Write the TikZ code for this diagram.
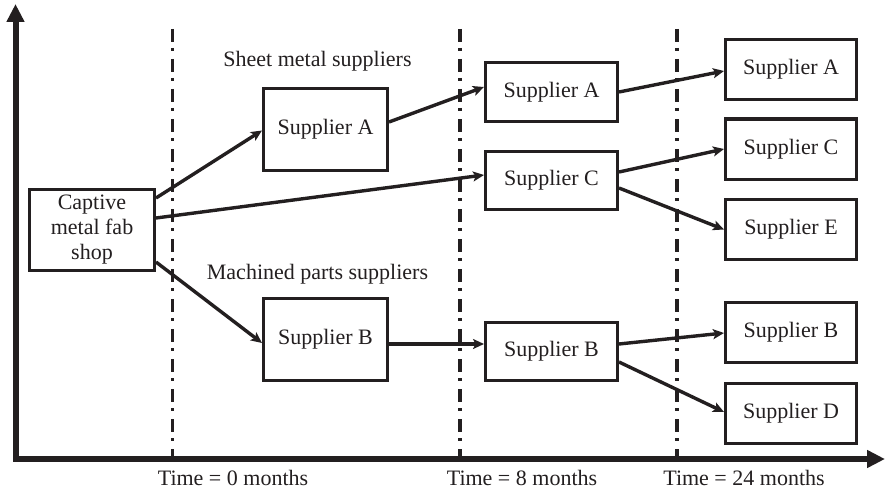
\documentclass[tikz,border=0pt]{standalone}
\usepackage{fontspec}
\setmainfont{Liberation Serif}
\usetikzlibrary{arrows.meta}
\definecolor{ink}{HTML}{231F20}
\begin{document}
\begin{tikzpicture}[x=1pt,y=-1pt,
  font=\fontsize{22}{25}\selectfont, text=ink,
  box/.style={draw=ink, line width=3pt, fill=white, inner sep=0pt, align=center},
  firstbox/.style={box, minimum width=124pt, minimum height=82pt},
  midbox/.style={box, minimum width=132pt, minimum height=58pt},
  lastbox/.style={box, minimum width=131pt, minimum height=60pt},
  link/.style={draw=ink, line width=3.4pt, -{Stealth[length=11pt,width=10pt,inset=2.5pt]}},
  axis/.style={draw=ink, line width=6pt, line join=miter},
  axistip/.tip={Triangle[length=18pt,width=17pt]},
  epoch/.style={draw=ink, line width=3.8pt, dash pattern=on 13pt off 6pt on 3pt off 8pt},
  lbl/.style={anchor=base, inner sep=0pt}]

% canvas
\path[fill=white, use as bounding box] (0,0) rectangle (885,492);

% time axes
\coordinate (ytop) at (15.5,4);
\coordinate (xend) at (885,459);
\coordinate (origin) at (15.5,459);
\draw[axis, axistip-axistip] (ytop) |- (xend);

% epoch lines
\coordinate (e0) at (172.5,29);
\coordinate (e8) at (460,29);
\coordinate (e24) at (677,29);
\foreach \e in {e0,e8,e24}
  \draw[epoch] (\e) -- (\e |- origin);

\node[lbl] (t0)  at (233,485) {Time = 0 months};
\node[lbl] (t8)  at (522,485) {Time = 8 months};
\node[lbl] (t24) at (744,485) {Time = 24 months};

% group captions
\node[lbl] (sheet) at (317.5,67) {Sheet metal suppliers};
\node[lbl] (mach)  at (317.5,279) {Machined parts suppliers};

% suppliers
\node[box, minimum width=125pt, minimum height=81pt] (cap) at (92,230)
  {Captive\\metal fab\\shop};

\node[firstbox] (a1) at (325.5,129.5) {Supplier A};
\node[firstbox] (b1) at (325.5,339.5) {Supplier B};

\node[midbox] (a2) at (551.5,92)    {Supplier A};
\node[midbox] (c2) at (551.5,180)   {Supplier C};
\node[midbox] (b2) at (551.5,351.5) {Supplier B};

\node[lastbox] (a3) at (791,69.5)  {Supplier A};
\node[lastbox] (c3) at (791,149)   {Supplier C};
\node[lastbox] (e3) at (791,229.5) {Supplier E};
\node[lastbox] (b3) at (791,332)   {Supplier B};
\node[lastbox] (d3) at (791,413)   {Supplier D};

% supply transitions
\draw[link] ([yshift=32pt]cap.east) -- ([yshift=-1pt]a1.west);
\draw[link] ([yshift=12pt]cap.east) -- ([yshift=5pt]c2.west);
\draw[link] ([yshift=-32pt]cap.east) -- ([yshift=-3.5pt]b1.west);

\draw[link] ([yshift=7.5pt]a1.east) -- ([yshift=5pt]a2.west);
\draw[link] ([yshift=-4.5pt]b1.east) -- ([yshift=-4.5pt]b1.east -| b2.west);

\draw[link] (a2.east) -- ([yshift=-1.5pt]a3.west);
\draw[link] ([yshift=8pt]c2.east) -- (c3.west);
\draw[link] ([yshift=-8pt]c2.east) -- (e3.west);
\draw[link] ([yshift=7.5pt]b2.east) -- ([yshift=-1pt]b3.west);
\draw[link] ([yshift=-10.5pt]b2.east) -- ([yshift=1pt]d3.west);
\end{tikzpicture}
\end{document}
